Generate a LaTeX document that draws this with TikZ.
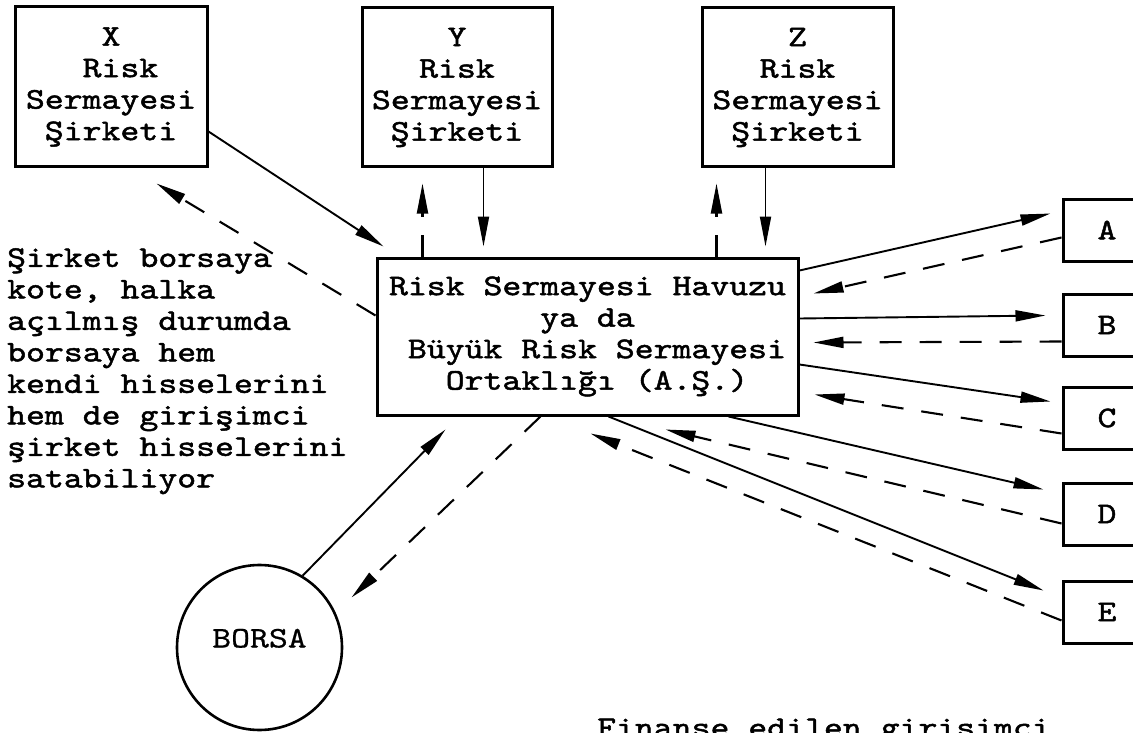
\documentclass[tikz,border=0pt]{standalone}
\usepackage{fontspec}
\newfontfamily\daktilo{lmmono10-regular.otf}[FakeStretch=1.2, FakeBold=1.6]
\newfontfamily\ince{lmmono10-regular.otf}[FakeStretch=1.2, FakeBold=0.6]
\usetikzlibrary{arrows.meta,calc}

\newcommand{\bosluk}{\phantom{x}}

\begin{document}
\begin{tikzpicture}[x=1pt,y=-1pt]
\tikzset{kutu/.style={draw, line width=3pt, inner sep=0pt, align=center, font=\fontsize{30}{31.5}\daktilo},
harf/.style={kutu, minimum width=88pt, minimum height=62pt},
cember/.style={draw, circle, line width=2.6pt, minimum size=165pt, inner sep=0pt, text height=10pt, text depth=10pt, font=\fontsize{30}{31.5}\ince},
yazi/.style={inner sep=0pt, align=left, font=\fontsize{30}{31.5}\daktilo},
gider/.style={line width=1.9pt, -{Triangle[length=30pt,width=11pt]}},
donen/.style={gider, line width=2.1pt, dash pattern=on 22pt off 18pt}}
\useasboundingbox (0,0) rectangle (1133,733);
\clip (0,0) rectangle (1133,733);
\node[kutu, minimum width=192pt, minimum height=160pt] (X) at (111,87) {X\\\bosluk Risk\\Sermayesi\\Şirketi};
\node[kutu, minimum width=190pt, minimum height=159pt] (Y) at (457,87.5) {Y\\Risk\\Sermayesi\\Şirketi};
\node[kutu, minimum width=191pt, minimum height=159pt] (Z) at (797.5,87.5) {Z\\Risk\\Sermayesi\\Şirketi};
\node[kutu, minimum width=421pt, minimum height=157pt] (havuz) at (587.5,336.5) {Risk Sermayesi Havuzu\\ya da\\\bosluk Büyük Risk Sermayesi\\\bosluk Ortaklığı (A.Ş.)};
\node[harf] (A) at (1107,230) {A};
\node[harf] (B) at (1107,325) {B};
\node[harf] (C) at (1107,418) {C};
\node[harf] (D) at (1107,514) {D};
\node[harf] (E) at (1107,612) {E};
\node[cember] (borsa) at (259.5,647.5) {BORSA};
\node[yazi, anchor=north west] (not) at (7,248) {Şirket borsaya\\kote, halka\\açılmış durumda\\borsaya hem\\kendi hisselerini\\hem de girişimci\\şirket hisselerini\\satabiliyor};
\node[yazi, anchor=base west] (alt) at (597,737) {Finanse edilen girişimci};
\draw[gider] ($(X.north east)+(0,126)$) -- ($(havuz.north west)+(8,-10)$);
\draw[donen] ($(havuz.north west)+(0,59)$) -- ($(X.south west)+(143,15)$);
\draw[gider] ($(Y.south west)+(123,0)$) -- ($(havuz.north west)+(108,-10)$);
\draw[donen] ($(havuz.north west)+(47,0)$) -- ($(Y.south west)+(62,15)$);
\draw[gider] ($(Z.south west)+(65,0)$) -- ($(havuz.north west)+(390,-10)$);
\draw[donen] ($(havuz.north west)+(341,0)$) -- ($(Z.south west)+(16,15)$);
\draw[gider] ($(havuz.north east)+(0,14)$) -- ($(A.north west)+(-11,16)$);
\draw[donen] ($(A.north west)+(0,40)$) -- ($(havuz.north east)+(14,37)$);
\draw[gider] ($(havuz.north east)+(0,62)$) -- ($(B.north west)+(-16,23)$);
\draw[donen] ($(B.north west)+(0,49)$) -- ($(havuz.north east)+(14,86)$);
\draw[gider] ($(havuz.north east)+(0,108)$) -- ($(C.north west)+(-11,16)$);
\draw[donen] ($(C.north west)+(0,48)$) -- ($(havuz.north east)+(15,138)$);
\draw[gider] ($(havuz.south west)+(353,0)$) -- ($(D.north west)+(-18,8)$);
\draw[donen] ($(D.north west)+(0,42)$) -- ($(havuz.south west)+(290,13)$);
\draw[gider] ($(havuz.south west)+(233,0)$) -- ($(E.north west)+(-18,11)$);
\draw[donen] ($(E.north west)+(0,41)$) -- ($(havuz.south west)+(215,17)$);
\draw[gider] (borsa.59) -- ($(havuz.south west)+(70,13)$);
\draw[donen] ($(havuz.south west)+(165,0)$) -- ($(borsa.center)+(92,-50)$);
\end{tikzpicture}
\end{document}
